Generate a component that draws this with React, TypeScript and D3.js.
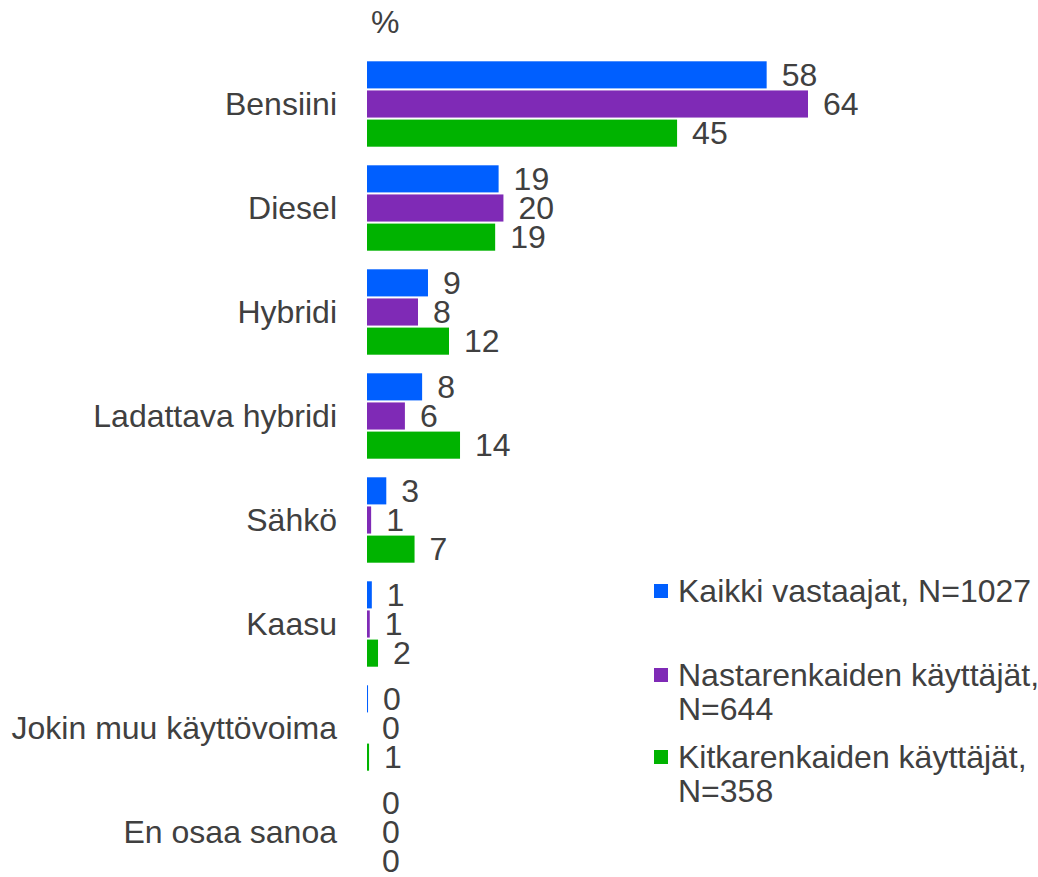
import React, { useRef, useEffect } from 'react';
import * as d3 from 'd3';

const categories = [
  'Bensiini',
  'Diesel',
  'Hybridi',
  'Ladattava hybridi',
  'Sähkö',
  'Kaasu',
  'Jokin muu käyttövoima',
  'En osaa sanoa',
];

// bar lengths, labels are the rounded values
const kaikki = [58, 19.1, 8.85, 8.0, 2.8, 0.7, 0.15, 0];
const nasta = [64, 19.8, 7.4, 5.5, 0.6, 0.4, 0, 0];
const kitka = [45, 18.6, 11.9, 13.5, 6.9, 1.6, 0.3, 0];

const kaikkiLabels = [58, 19, 9, 8, 3, 1, 0, 0];
const nastaLabels = [64, 20, 8, 6, 1, 1, 0, 0];
const kitkaLabels = [45, 19, 12, 14, 7, 2, 1, 0];

const seriesNames = [
  ['Kaikki vastaajat, N=1027'],
  ['Nastarenkaiden käyttäjät,', 'N=644'],
  ['Kitkarenkaiden käyttäjät,', 'N=358'],
];
const colors = ['#005FFF', '#7F2AB6', '#00B300'];

const W = 1038;
const H = 877;
const textColor = '#404040';
const font = '"Liberation Sans", Arial, sans-serif';
const fontSize = 32;

const App = () => {
  const svgRef = useRef<SVGSVGElement>(null);

  useEffect(() => {
    const svg = d3.select(svgRef.current);
    svg.selectAll('*').remove();

    const series = [
      { values: kaikki, labels: kaikkiLabels, color: colors[0] },
      { values: nasta, labels: nastaLabels, color: colors[1] },
      { values: kitka, labels: kitkaLabels, color: colors[2] },
    ];

    const xScale = d3.scaleLinear().domain([0, 64]).range([367, 808]);

    const yScale = d3
      .scaleBand<string>()
      .domain(categories)
      .range([52, 52 + categories.length * 104])
      .padding(0);

    const inner = d3
      .scaleBand<number>()
      .domain([0, 1, 2])
      .range([-42.7, 42.7])
      .paddingInner(0.07);

    // "%" unit label
    svg
      .append('text')
      .attr('x', 371)
      .attr('y', 33)
      .attr('fill', textColor)
      .attr('font-family', font)
      .attr('font-size', fontSize)
      .text('%');

    const groups = svg
      .selectAll('.grp')
      .data(categories)
      .enter()
      .append('g')
      .attr('transform', (d) => `translate(0,${yScale(d)! + yScale.bandwidth() / 2})`);

    groups
      .append('text')
      .attr('x', 337)
      .attr('y', 0)
      .attr('dy', '0.35em')
      .attr('text-anchor', 'end')
      .attr('fill', textColor)
      .attr('font-family', font)
      .attr('font-size', fontSize)
      .text((d) => d);

    series.forEach((s, si) => {
      groups
        .append('rect')
        .attr('x', xScale(0))
        .attr('y', inner(si)!)
        .attr('height', inner.bandwidth())
        .attr('width', (_, i) => xScale(s.values[i]) - xScale(0))
        .attr('fill', s.color);

      groups
        .append('text')
        .attr('x', (_, i) => xScale(s.values[i]) + 15)
        .attr('y', inner(si)! + inner.bandwidth() / 2)
        .attr('dy', '0.35em')
        .attr('fill', textColor)
        .attr('font-family', font)
        .attr('font-size', fontSize)
        .text((_, i) => s.labels[i]);
    });

    // legend
    const legendY = [602, 686, 768];
    const legend = svg
      .selectAll('.leg')
      .data(seriesNames)
      .enter()
      .append('g')
      .attr('transform', (_, i) => `translate(654,${legendY[i]})`);

    legend
      .append('rect')
      .attr('x', 0)
      .attr('y', -18)
      .attr('width', 14)
      .attr('height', 14)
      .attr('fill', (_, i) => colors[i]);

    const lt = legend
      .append('text')
      .attr('fill', textColor)
      .attr('font-family', font)
      .attr('font-size', fontSize);

    lt.selectAll('tspan')
      .data((d) => d)
      .enter()
      .append('tspan')
      .attr('x', 24)
      .attr('y', (_, j) => j * 33.5)
      .text((d) => d);
  }, []);

  return (
    <div style={{ position: 'absolute', left: 0, top: 0 }}>
      <svg ref={svgRef} width={W} height={H} style={{ display: 'block', background: '#fff' }} />
    </div>
  );
};

export default App;
